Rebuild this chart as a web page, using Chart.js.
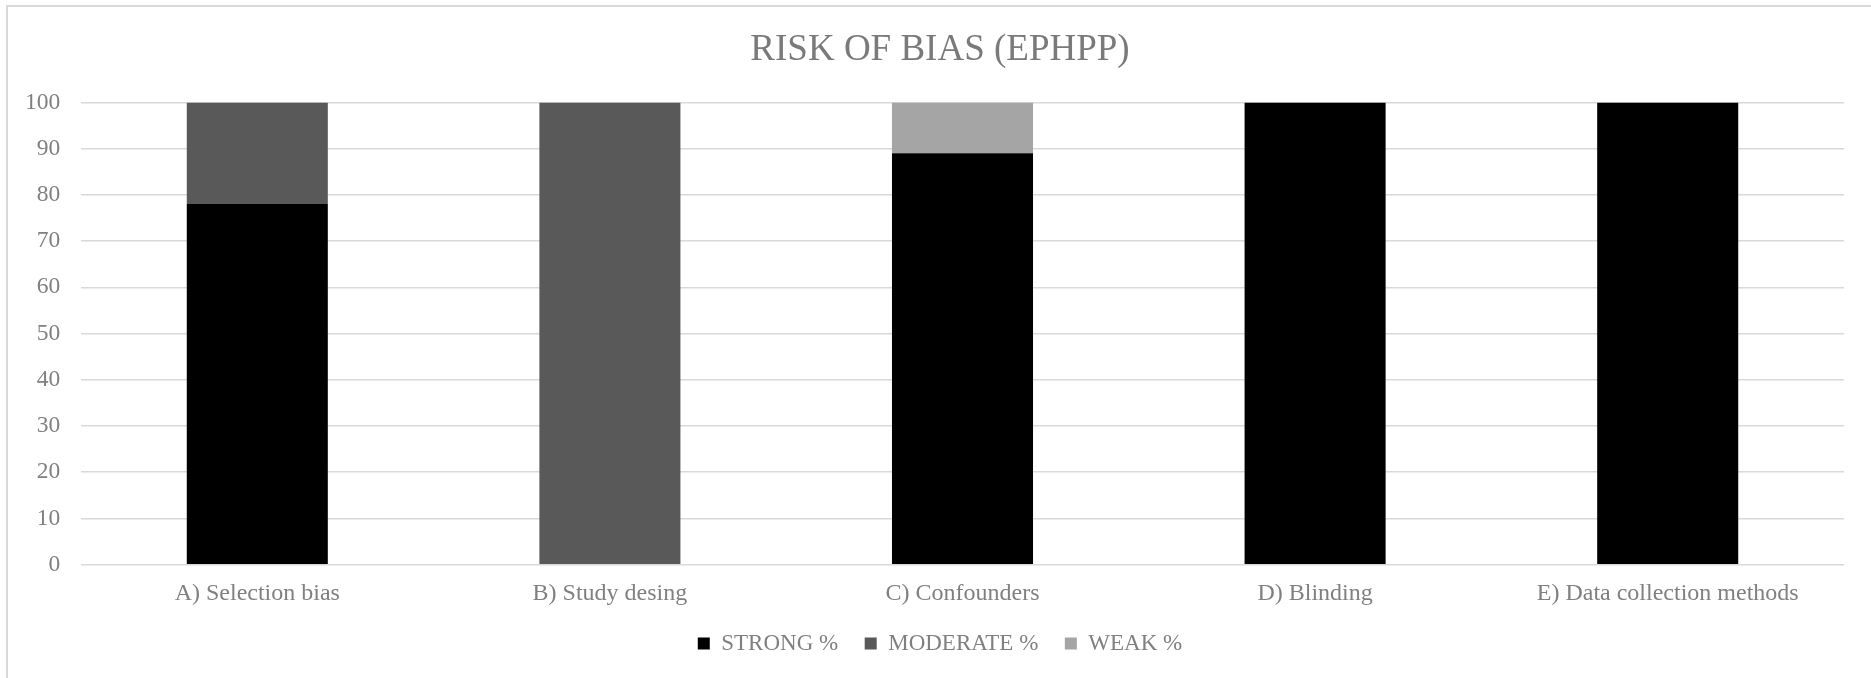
<!DOCTYPE html>
<html>
<head>
<meta charset="utf-8">
<script src="https://cdn.jsdelivr.net/npm/chart.js@4"></script>
<style>
  html, body { margin: 0; padding: 0; background: #fff; overflow: hidden; }
  #frame { position: absolute; left: 6px; top: 5px; width: 1900px; height: 700px; border: 2px solid #d9d9d9; }
  #wrap { position: absolute; left: 0; top: 0; width: 1871px; height: 678px; }
</style>
</head>
<body>
<div id="frame"></div>
<div id="wrap"><canvas id="myChart" width="1871" height="678"></canvas></div>
<script>
// values
const categories = ['A) Selection bias', 'B) Study desing', 'C) Confounders', 'D) Blinding', 'E) Data collection methods'];
const strong = [78, 0, 89, 100, 100];
const moderate = [22, 100, 0, 0, 0];
const weak = [0, 0, 11, 0, 0];
const seriesNames = ['STRONG %', 'MODERATE %', 'WEAK %'];

const serif = 'Liberation Serif, Times New Roman, serif';
const txt = '#808080';

const ctx = document.getElementById('myChart').getContext('2d');

const myChart = new Chart(ctx, {
    type: 'bar',
    data: {
        labels: categories,
        datasets: [
            { label: seriesNames[0], data: strong, backgroundColor: '#000000' },
            { label: seriesNames[1], data: moderate, backgroundColor: '#595959' },
            { label: seriesNames[2], data: weak, backgroundColor: '#a5a5a5' }
        ]
    },
    options: {
        responsive: false,
        animation: false,
        categoryPercentage: 0.8,
        barPercentage: 0.5,
        // left padding keeps title + legend centred like the original
        layout: { padding: { left: 36, right: 27, top: 28, bottom: 13 } },
        plugins: {
            title: {
                display: true,
                text: 'RISK OF BIAS (EPHPP)',
                color: '#7a7a7a',
                font: { family: serif, size: 37, weight: 'normal' },
                padding: { top: 0, bottom: 30 }
            },
            legend: {
                position: 'bottom',
                labels: {
                    color: txt,
                    font: { family: serif, size: 23 },
                    boxWidth: 12,
                    boxHeight: 12,
                    padding: 26.5
                }
            },
            tooltip: { enabled: false }
        },
        scales: {
            x: {
                stacked: true,
                grid: { display: false },
                border: { display: false },
                afterFit: function (scale) { scale.height -= 10; },
                ticks: { color: txt, font: { family: serif, size: 24 }, padding: 7 }
            },
            y: {
                stacked: true,
                min: 0,
                max: 100,
                afterFit: function (scale) { scale.width = 45; },
                grid: { color: '#d9d9d9', lineWidth: 1.5, drawTicks: false },
                border: { display: false },
                // mirrored + negative padding so the labels sit left of the plot without being clipped
                ticks: { stepSize: 10, color: txt, font: { family: serif, size: 23.5 },
                         mirror: true, crossAlign: 'far', padding: -56 }
            }
        }
    }
});
</script>
</body>
</html>
